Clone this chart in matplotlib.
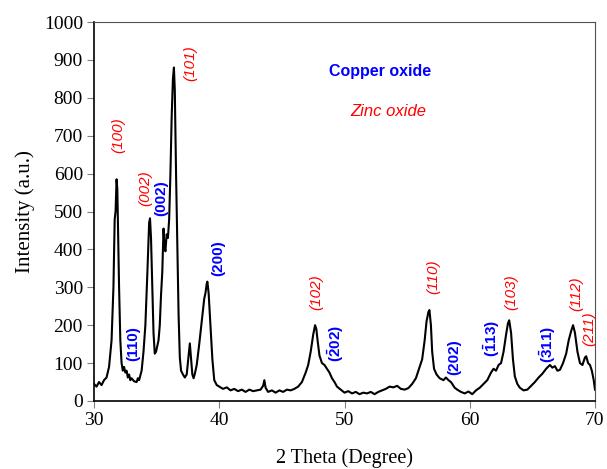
import matplotlib
matplotlib.use('Agg')
import matplotlib.pyplot as plt

# XRD pattern (2 theta in degrees, intensity in a.u.)
two_theta = [30.0, 30.2, 30.4, 30.6, 30.8, 31.0, 31.2, 31.4, 31.55, 31.65, 31.72, 31.8, 31.86, 31.92,
             32.0, 32.1, 32.2, 32.3, 32.4, 32.5, 32.6, 32.7, 32.8, 32.9, 33.0, 33.2, 33.4, 33.5, 33.6,
             33.8, 33.95, 34.1, 34.25, 34.4, 34.47, 34.55, 34.65, 34.75, 34.85, 34.95, 35.05, 35.15,
             35.25, 35.35, 35.45, 35.55, 35.62, 35.7, 35.8, 35.9, 36.0, 36.1, 36.2, 36.3, 36.38, 36.45,
             36.55, 36.65, 36.75, 36.85, 36.95, 37.1, 37.25, 37.4, 37.55, 37.65, 37.75, 37.85, 37.95,
             38.05, 38.2, 38.4, 38.6, 38.8, 38.9, 39.0, 39.05, 39.15, 39.3, 39.45, 39.6, 39.8, 40.0,
             40.3, 40.6, 40.9, 41.2, 41.5, 41.8, 42.1, 42.4, 42.7, 43.0, 43.3, 43.5, 43.6, 43.7, 43.9,
             44.2, 44.5, 44.8, 45.1, 45.4, 45.7, 46.0, 46.3, 46.6, 46.9, 47.1, 47.3, 47.5, 47.65, 47.75,
             47.85, 48.0, 48.2, 48.4, 48.6, 48.8, 49.0, 49.2, 49.4, 49.7, 50.0, 50.3, 50.6, 50.9, 51.2,
             51.5, 51.8, 52.1, 52.4, 52.7, 53.0, 53.3, 53.6, 53.9, 54.2, 54.5, 54.8, 55.1, 55.4, 55.7,
             55.95, 56.2, 56.4, 56.55, 56.7, 56.78, 56.9, 57.0, 57.15, 57.35, 57.6, 57.9, 58.1, 58.3,
             58.5, 58.8, 59.0, 59.3, 59.6, 59.9, 60.2, 60.5, 60.8, 61.1, 61.4, 61.7, 61.9, 62.1, 62.3,
             62.5, 62.7, 62.9, 63.05, 63.15, 63.3, 63.45, 63.6, 63.8, 64.0, 64.3, 64.6, 64.9, 65.2, 65.5,
             65.8, 66.1, 66.4, 66.6, 66.8, 67.0, 67.2, 67.45, 67.7, 67.9, 68.1, 68.25, 68.4, 68.6, 68.8,
             69.0, 69.2, 69.3, 69.45, 69.6, 69.75, 69.9, 70.0]
intensity = [45, 38, 50, 42, 55, 62, 90, 160, 300, 480, 500, 585, 560, 450,
             300, 160, 100, 80, 90, 75, 80, 62, 70, 55, 60, 52, 50, 60, 55,
             80, 130, 200, 330, 470, 482, 430, 300, 180, 125, 130, 145, 160,
             200, 280, 340, 455, 410, 395, 440, 430, 480, 600, 750, 850, 880, 820,
             600, 420, 230, 115, 80, 70, 62, 70, 120, 152, 110, 70, 60,
             72, 95, 150, 210, 270, 285, 310, 315, 285, 200, 110, 55, 42, 38,
             32, 36, 28, 32, 26, 30, 24, 30, 26, 28, 30, 40, 55, 35, 24,
             28, 22, 28, 24, 30, 28, 32, 38, 50, 75, 95, 130, 175, 200, 190,
             160, 120, 100, 95, 85, 75, 60, 50, 38, 30, 22, 26, 20, 24, 18,
             22, 20, 24, 18, 24, 28, 32, 38, 36, 40, 32, 30, 34, 45, 60,
             85, 110, 160, 210, 235, 240, 200, 130, 85, 70, 60, 55, 62, 55,
             50, 35, 30, 24, 20, 25, 18, 28, 35, 45, 55, 75, 85, 80, 95,
             100, 130, 175, 205, 213, 180, 110, 65, 45, 35, 28, 30, 40, 50, 62,
             72, 85, 95, 88, 92, 80, 82, 100, 125, 160, 185, 200, 180, 130, 100,
             95, 115, 118, 100, 95, 80, 55, 30]

# Miller index labels: (text, x, y)
zno_labels = [('(100)', 31.94, 702), ('(002)', 34.07, 562), ('(101)', 37.66, 891),
              ('(102)', 47.78, 288), ('(110)', 57.09, 328), ('(103)', 63.3, 288),
              ('(112)', 68.5, 284), ('(211)', 69.55, 192)]
cuo_labels = [('(110)', 33.14, 152), ('(002)', 35.4, 535), ('(200)', 39.93, 376),
              (r'$(\bar{2}02)$', 49.3, 152), ('(202)', 58.74, 117), (r'$(\bar{1}13)$', 61.75, 165),
              (r'$(\bar{3}11)$', 66.27, 148)]

plt.rcParams['mathtext.fontset'] = 'custom'
plt.rcParams['mathtext.rm'] = 'Liberation Sans:bold'
plt.rcParams['mathtext.it'] = 'Liberation Sans:bold'
plt.rcParams['mathtext.bf'] = 'Liberation Sans:bold'

fig = plt.figure(figsize=(6.07, 4.69), dpi=100)
ax = fig.add_axes([0.1549, 0.145, 0.8253, 0.808])

ax.plot(two_theta, intensity, color='black', linewidth=1.5)

for txt, x, y in zno_labels:
    ax.text(x, y, txt, rotation=90, ha='center', va='center', color='red',
            style='italic', family='Liberation Sans', fontsize=11)
for txt, x, y in cuo_labels:
    ax.text(x, y, txt, rotation=90, ha='center', va='center', color='blue',
            weight='bold', family='Liberation Sans', fontsize=11)

ax.text(52.8, 869, 'Copper oxide', color='blue', weight='bold', family='Liberation Sans',
        fontsize=11.5, ha='center', va='center')
ax.text(53.46, 765, 'Zinc oxide', color='red', style='italic', family='Liberation Sans',
        fontsize=12, ha='center', va='center')

ax.set_xlim(30, 70)
ax.set_ylim(0, 1000)
ax.set_xticks(range(30, 71, 10))
ax.set_yticks(range(0, 1001, 100))
for lab in ax.get_xticklabels() + ax.get_yticklabels():
    lab.set_family('Liberation Serif')
    lab.set_fontsize(14)
ax.tick_params(direction='out', length=5, width=0.8, color='#808080', pad=3)
ax.set_xlabel('2 Theta (Degree)', family='Liberation Serif', fontsize=14.5, labelpad=14)
ax.set_ylabel('Intensity (a.u.)', family='Liberation Serif', fontsize=15, labelpad=6)
ax.spines['left'].set_color('black')
ax.spines['bottom'].set_color('black')
ax.spines['top'].set_color('#505050')
ax.spines['right'].set_color('#505050')
ax.spines['left'].set_linewidth(1.2)
ax.spines['bottom'].set_linewidth(1.2)

fig.savefig('out.png', dpi=100)
